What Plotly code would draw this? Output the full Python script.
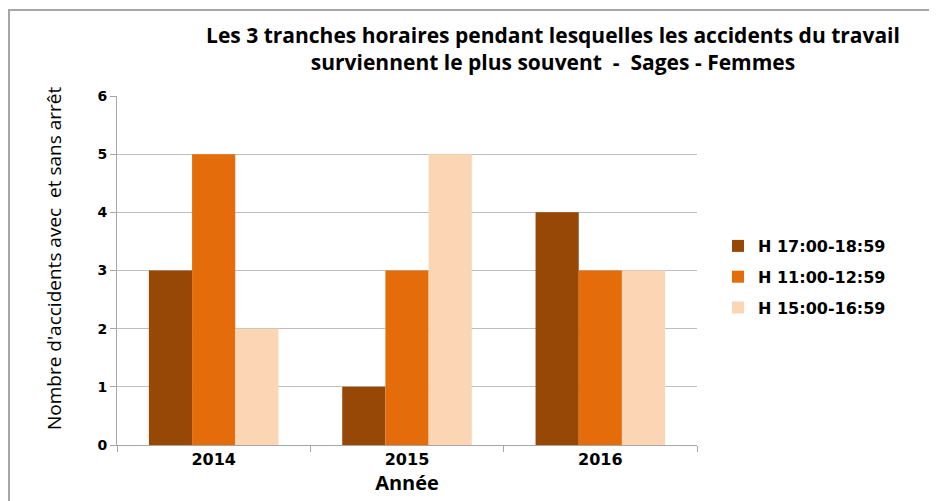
import plotly.graph_objects as go

years = ["2014", "2015", "2016"]
series_names = ["H 17:00-18:59", "H 11:00-12:59", "H 15:00-16:59"]
h17 = [3, 1, 4]
h11 = [5, 3, 3]
h15 = [2, 5, 3]
colors = ["#974706", "#E46C0A", "#FCD5B5"]

# page body has an 8px margin, so work in figure pixels = window pixels - 8
O = 8
W, H = 937, 501
L, T = 117 - O, 96 - O
R = W - (697 - O)
B = H - (445 - O)
pw = W - L - R
ph = H - T - B


def px_x(p):
    return (p - O - L) / pw


def px_y(p):
    return (H - B - (p - O)) / ph


fig = go.Figure()
for name, vals, col in zip(series_names, [h17, h11, h15], colors):
    fig.add_trace(go.Bar(x=years, y=vals, name=name, marker_color=col,
                         marker_line_width=0, legendgroup=name))

# outer chart frame
fig.add_shape(type="rect", xref="paper", yref="paper",
              x0=px_x(9), x1=px_x(990), y0=px_y(560), y1=px_y(10),
              line=dict(color="#A6A6A6", width=2), layer="below")

fig.add_annotation(text="Nombre d'accidents avec  et sans arrêt", textangle=-90,
                   xref="paper", yref="paper", x=px_x(54), y=px_y(259),
                   showarrow=False, xanchor="center", yanchor="middle",
                   font=dict(family="Open Sans", size=19, color="#000000"))

fig.update_layout(
    width=W, height=H,
    margin=dict(l=L, r=R, t=T, b=B),
    plot_bgcolor="white", paper_bgcolor="white",
    barmode="group", bargap=0.33, bargroupgap=0,
    title=dict(
        text="Les 3 tranches horaires pendant lesquelles les accidents du travail<br>surviennent le plus souvent  -  Sages - Femmes",
        x=(553 - O) / W, xanchor="center", y=1 - (43 - O) / H, yanchor="middle",
        font=dict(family="Open Sans", size=21, color="#000000", weight="bold"),
    ),
    legend=dict(x=px_x(718), y=px_y(277), xanchor="left", yanchor="middle",
                font=dict(family="DejaVu Sans", size=16, color="#000000", weight="bold"),
                tracegroupgap=7, itemwidth=30, bgcolor="rgba(0,0,0,0)"),
    font=dict(family="DejaVu Sans", color="#000000"),
)
fig.update_yaxes(range=[0, 6], dtick=1, showgrid=True, gridcolor="#BFBFBF", gridwidth=1,
                 showline=True, linecolor="#A6A6A6", linewidth=1,
                 ticks="outside", ticklen=6, tickcolor="#A6A6A6",
                 tickfont=dict(family="DejaVu Sans", size=14, weight="bold"),
                 zeroline=False, automargin=False)
fig.update_xaxes(showline=True, linecolor="#A6A6A6", linewidth=1,
                 ticks="outside", ticklen=6, tickcolor="#A6A6A6", tickson="boundaries",
                 tickfont=dict(family="DejaVu Sans", size=16, weight="bold"),
                 title=dict(text="Année", standoff=2,
                            font=dict(family="Open Sans", size=20, weight="bold")),
                 automargin=False)

fig.write_html("out.html")
